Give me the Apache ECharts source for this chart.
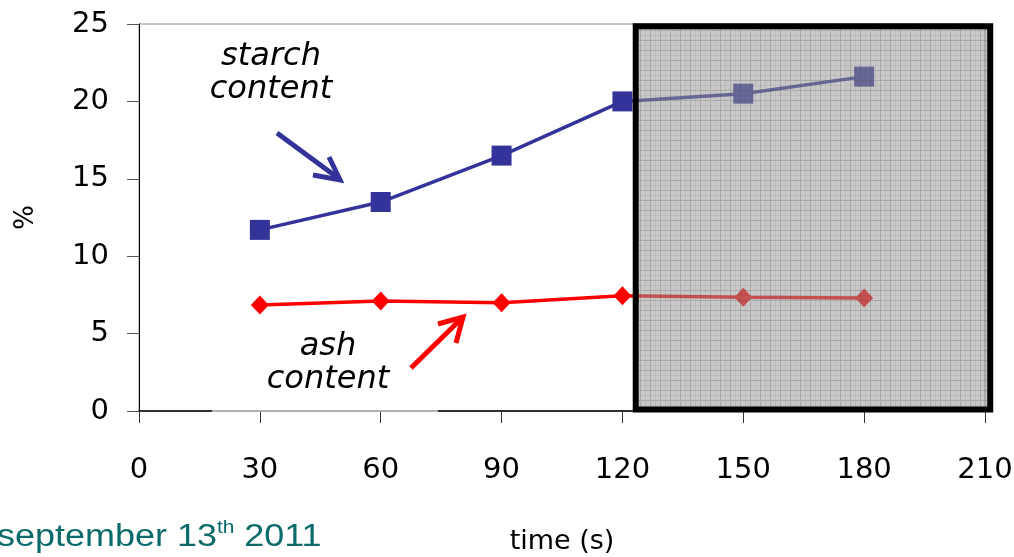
<!DOCTYPE html>
<html><head><meta charset="utf-8">
<script src="https://cdn.jsdelivr.net/npm/echarts@6/dist/echarts.min.js"></script>
<style>html,body{margin:0;padding:0;background:#fff}#c{width:1014px;height:557px}</style>
</head><body><div id="c"></div>
<script>
var times = [30, 60, 90, 120, 150, 180];
var starch = [11.7, 13.5, 16.5, 20.0, 20.5, 21.6];
var ash = [6.85, 7.1, 7.0, 7.45, 7.35, 7.3];
var xTicks = [0, 30, 60, 90, 120, 150, 180, 210];
var yTicks = [0, 5, 10, 15, 20, 25];
var boxX = [123.3, 211.3];
var boxY = [0.1, 24.85];

function pairs(xs, ys){ return xs.map(function(x,i){return [x, ys[i]];}); }

var pc = document.createElement('canvas');
pc.width = 10; pc.height = 10;
var g = pc.getContext('2d');
g.fillStyle = 'rgba(151,151,151,0.53)';
g.fillRect(0,0,10,10);
g.fillStyle = 'rgba(80,80,80,0.25)';
g.fillRect(0,0,10,1);
g.fillRect(0,1,1,9);
g.fillStyle = 'rgba(80,80,80,0.08)';
g.fillRect(0,5,10,1);
g.fillRect(5,0,1,10);

var font = '"DejaVu Sans", sans-serif';
var chart = echarts.init(document.getElementById('c'));
chart.setOption({
  animation: false,
  grid: {left: 139, right: 29, top: 24, bottom: 146, outerBoundsMode: 'none', containLabel: false, show: true, borderColor: '#8c8c8c', borderWidth: 1, backgroundColor: 'transparent'},
  xAxis: {
    type: 'value', min: xTicks[0], max: xTicks[xTicks.length-1], interval: xTicks[1]-xTicks[0],
    axisLine: {onZero: false, lineStyle: {color: '#000', width: 1.5}},
    axisTick: {show: true, length: 12, lineStyle: {color: '#333'}},
    axisLabel: {margin: 45, fontSize: 29, color: '#000', fontFamily: font},
    splitLine: {show: false},
    name: 'time (s)', nameLocation: 'middle', nameGap: 117,
    nameTextStyle: {fontSize: 27, color: '#000', fontFamily: font}
  },
  yAxis: {
    type: 'value', min: yTicks[0], max: yTicks[yTicks.length-1], interval: yTicks[1]-yTicks[0],
    axisLine: {show: true, lineStyle: {color: '#000', width: 1}},
    axisTick: {show: true, length: 12, lineStyle: {color: '#555'}},
    axisLabel: {margin: 30, fontSize: 29, color: '#000', fontFamily: font},
    splitLine: {show: false},
    name: '%', nameLocation: 'middle', nameGap: 100, nameRotate: 90,
    nameTextStyle: {fontSize: 26, color: '#000', fontFamily: font}
  },
  series: [
    {
      name: 'starch content', type: 'line', data: pairs(times, starch),
      symbol: 'rect', symbolSize: 20, z: 3,
      lineStyle: {color: '#333399', width: 3.5}, itemStyle: {color: '#333399'}
    },
    {
      name: 'ash content', type: 'line', data: pairs(times, ash),
      symbol: 'diamond', symbolSize: [18, 19], z: 3,
      lineStyle: {color: '#ff0000', width: 3.5}, itemStyle: {color: '#ff0000'}
    },
    {
      name: 'box', type: 'custom', z: 10, silent: true, clip: false,
      data: [[boxX[0], boxX[1], boxY[0], boxY[1]]],
      renderItem: function(params, api){
        var p0 = api.coord([api.value(0), api.value(3)]);
        var p1 = api.coord([api.value(1), api.value(2)]);
        return {
          type: 'rect',
          shape: {x: p0[0], y: p0[1], width: p1[0]-p0[0], height: p1[1]-p0[1]},
          style: {fill: {image: pc, repeat: 'repeat'}, stroke: '#000', lineWidth: 6}
        };
      }
    }
  ],
  graphic: [
    {type: 'text', x: 271, y: 40, style: {text: 'starch\ncontent', font: 'italic 32px ' + font, fill: '#000', align: 'center', lineHeight: 33}},
    {type: 'text', x: 328, y: 330, style: {text: 'ash\ncontent', font: 'italic 32px ' + font, fill: '#000', align: 'center', lineHeight: 33}},
    {type: 'line', shape: {x1: 277, y1: 133, x2: 338, y2: 178}, style: {stroke: '#333399', lineWidth: 5}},
    {type: 'polyline', shape: {points: [[313, 175], [340, 180], [329, 157]]}, style: {stroke: '#333399', lineWidth: 5, fill: null, lineJoin: 'miter'}},
    {type: 'line', shape: {x1: 411, y1: 368, x2: 461, y2: 319}, style: {stroke: '#ff0000', lineWidth: 5}},
    {type: 'polyline', shape: {points: [[438, 324], [463, 317], [456, 343]]}, style: {stroke: '#ff0000', lineWidth: 5, fill: null, lineJoin: 'miter'}},
    {type: 'text', x: -3, y: 519, scaleX: 1.16, style: {
      text: '{a|september 13}{s|th}{a| 2011}',
      rich: {
        a: {fontSize: 31, fontFamily: '"Liberation Sans", Arial, sans-serif', fill: '#0b6a6a', verticalAlign: 'bottom', lineHeight: 34},
        s: {fontSize: 18, fontFamily: '"Liberation Sans", Arial, sans-serif', fill: '#0b6a6a', verticalAlign: 'top', lineHeight: 34, padding: [0,0,14,0]}
      }
    }}
  ]
});
// lighter stretch of the x axis line (partially covered in the original)
var a = chart.convertToPixel({gridIndex: 0}, [18.1, 0]);
var b = chart.convertToPixel({gridIndex: 0}, [74.2, 0]);
chart.setOption({graphic: [{type: 'line', id: 'axisgap', z: 5, shape: {x1: a[0], y1: a[1], x2: b[0], y2: b[1]}, style: {stroke: '#b0b0b0', lineWidth: 2}}]});
</script></body></html>
